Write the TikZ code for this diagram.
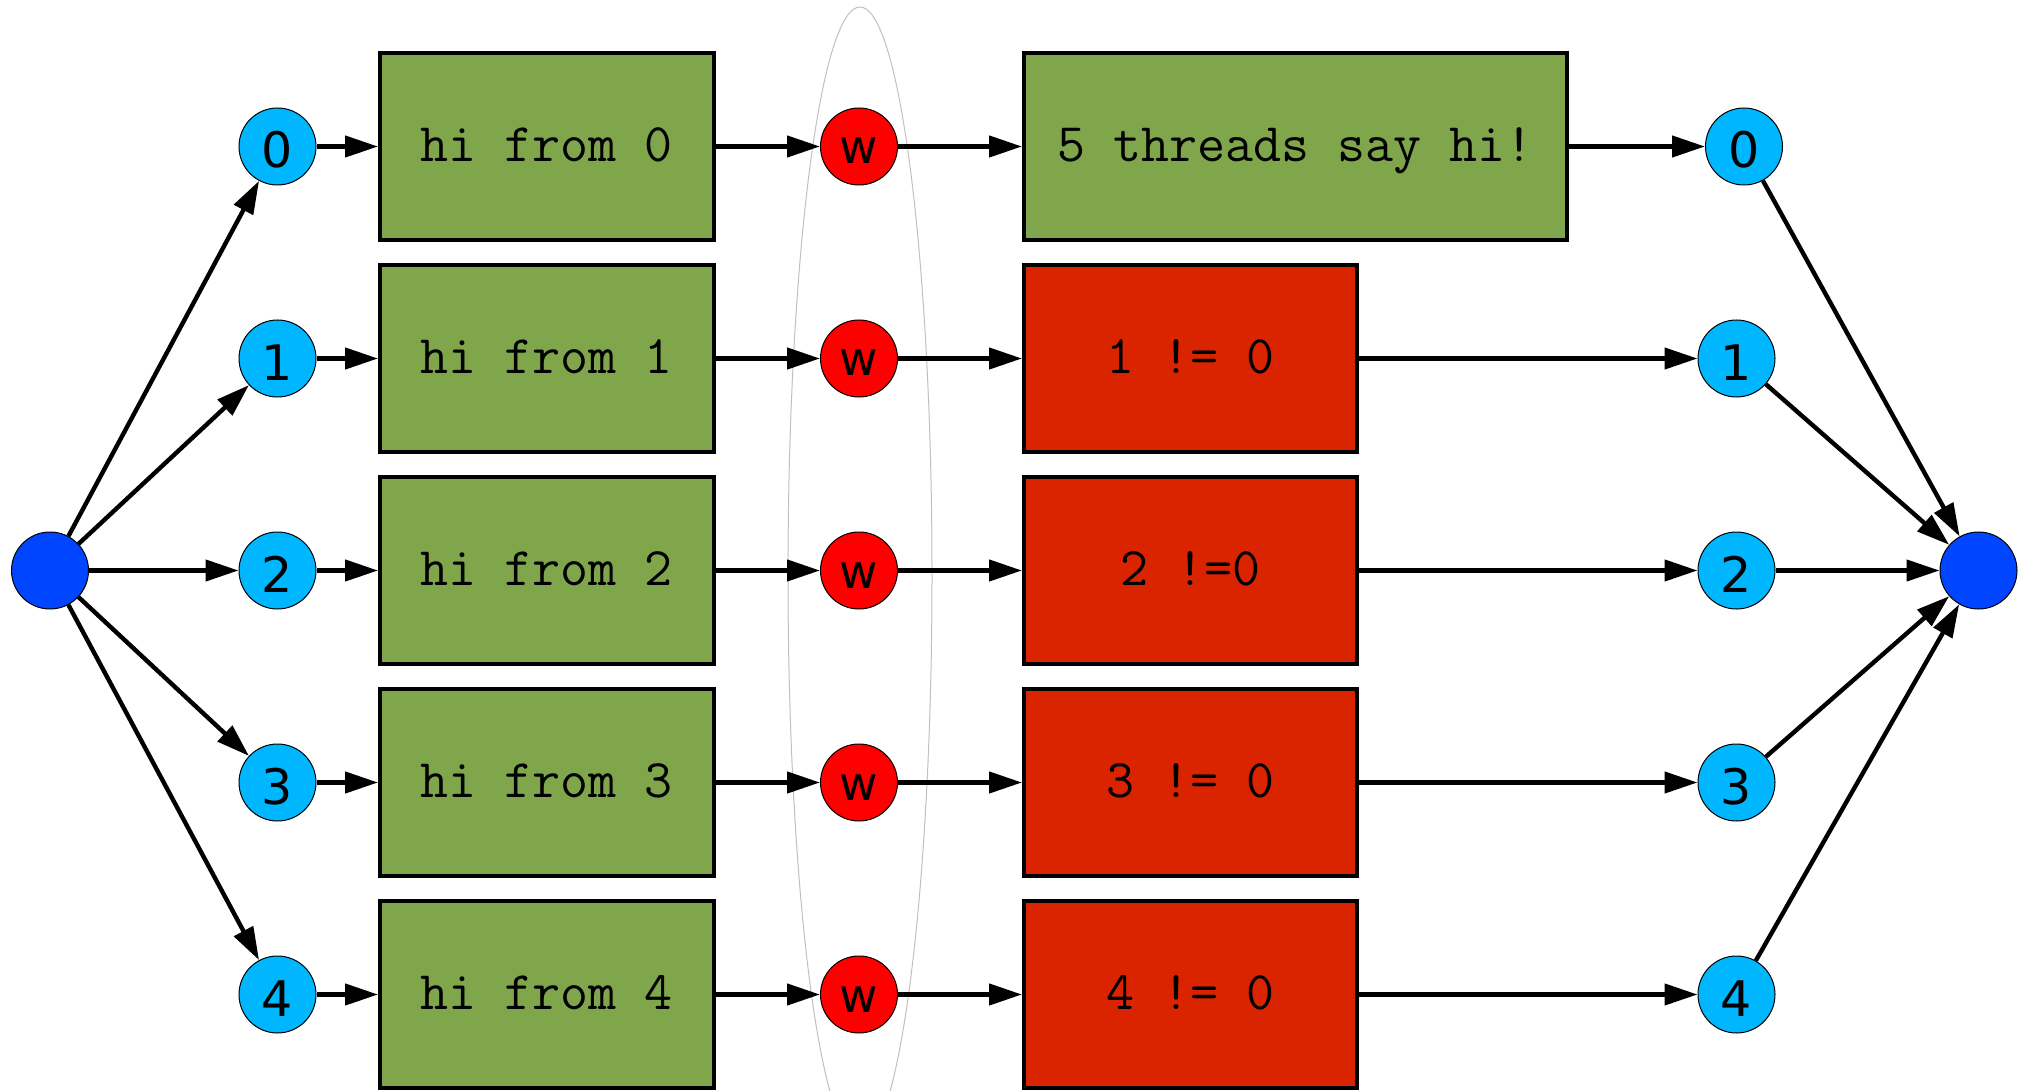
\documentclass[tikz,border=0pt]{standalone}
\usepackage{fontspec}
\setsansfont{DejaVu Sans}
\usetikzlibrary{arrows.meta}
\definecolor{cyanc}{HTML}{00B7FF}
\definecolor{bluec}{HTML}{0045FF}
\definecolor{greenc}{HTML}{7FA64A}
\definecolor{redc}{HTML}{DA2400}
\definecolor{wred}{HTML}{FF0000}
\definecolor{ringc}{HTML}{C0C0C0}
\begin{document}
\begin{tikzpicture}[x=0.5pt,y=-0.5pt,
  dot/.style={circle,draw=black,line width=0.5pt,minimum size=38.5pt,inner sep=0pt},
  num/.style={dot,fill=cyanc,font=\fontsize{24.5}{28}\selectfont\sffamily,text height=21.5pt,text depth=0pt},
  wnode/.style={dot,fill=wred,font=\fontsize{23.5}{28}\selectfont\sffamily,text height=17.5pt,text depth=0pt},
  hub/.style={dot,fill=bluec},
  box/.style={rectangle,draw=black,line width=2pt,minimum height=93.5pt,inner sep=0pt,font=\fontsize{27.2}{32}\selectfont\ttfamily,text height=15pt,text depth=0pt},
  okbox/.style={box,fill=greenc},
  badbox/.style={box,fill=redc},
  edge/.style={line width=2.2pt,-{Triangle[length=16.5pt,width=10.5pt]}}
]
\useasboundingbox (0,0) rectangle (2025,1091);
\clip (0,0) rectangle (2025,1091);
\draw[ringc,line width=0.5pt] (860,575) ellipse [x radius=36pt, y radius=284pt];
\node[hub] (L) at (50,570.5) {};
\node[hub] (R) at (1978.5,570.5) {};
\foreach \i in {0,...,4}{
  \pgfmathsetmacro\yy{146.5+212*\i}
  \node[num] (c\i) at (277.5,\yy) {\i};
  \node[okbox,minimum width=166.75pt] (h\i) at (546.75,\yy) {hi from \i};
  \node[wnode] (w\i) at (859,\yy) {w};
}
\node[okbox,minimum width=271.5pt] (r0) at (1295.5,146.5) {5 threads say hi!};
\node[badbox,minimum width=166.5pt] (r1) at (1190.5,358.5) {1 != 0};
\node[badbox,minimum width=166.5pt] (r2) at (1190.5,570.5) {2 !=0};
\node[badbox,minimum width=166.5pt] (r3) at (1190.5,782.5) {3 != 0};
\node[badbox,minimum width=166.5pt] (r4) at (1190.5,994.5) {4 != 0};
\node[num] (d0) at (1744,146.5) {0};
\node[num] (d1) at (1736.5,358.5) {1};
\node[num] (d2) at (1736.5,570.5) {2};
\node[num] (d3) at (1736.5,782.5) {3};
\node[num] (d4) at (1736.5,994.5) {4};
\foreach \i in {0,...,4}{
  \draw[edge] (L) -- (c\i);
  \draw[edge] (c\i) -- (h\i);
  \draw[edge] (h\i) -- (w\i);
  \draw[edge] (w\i) -- (r\i);
  \draw[edge] (r\i) -- (d\i);
  \draw[edge] (d\i) -- (R);
}
\end{tikzpicture}
\end{document}
